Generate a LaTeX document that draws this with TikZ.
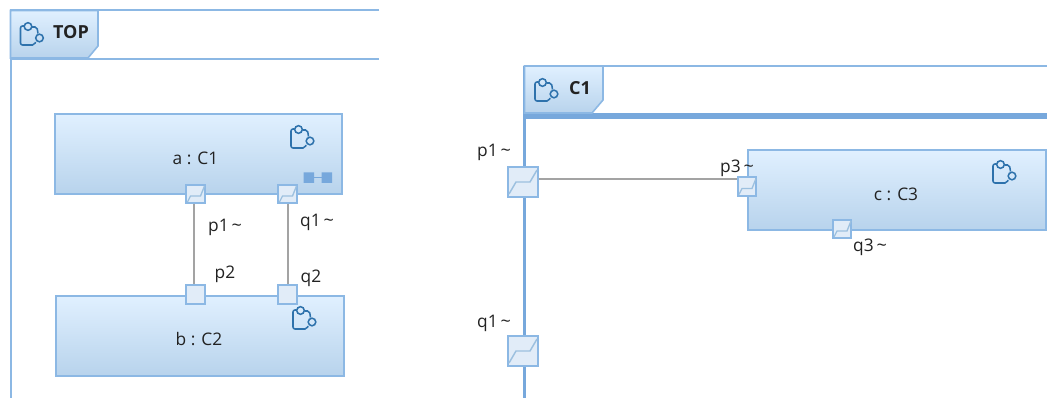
\documentclass[tikz,border=0pt]{standalone}
\usepackage{fontspec}
\setmainfont{Open Sans}
\usetikzlibrary{calc}
\definecolor{frameblue}{HTML}{8CB8E4}
\definecolor{thickblue}{HTML}{77A8DC}
\definecolor{shadetop}{HTML}{E0F0FF}
\definecolor{shadebot}{HTML}{B8D3EC}
\definecolor{portfill}{HTML}{E1ECF8}
\definecolor{iconblue}{HTML}{2E72AC}
\definecolor{wiregrey}{HTML}{A3A3A3}
\definecolor{textdark}{HTML}{222222}
\newcommand{\compicon}[2]{%
  \begin{scope}[shift={(#1,#2)},draw=iconblue,line width=1.15pt]
    \draw[rounded corners=1.5pt] (4.5,4) -- (1,4) -- (1,23) -- (15,23) -- (16,20);
    \draw (8.5,4.5) circle[radius=3.8];
    \draw[rounded corners=1.5pt] (12.5,5) -- (17.5,5) -- (18.5,11.5);
    \draw (20,16) circle[radius=3.8];
  \end{scope}}
\newcommand{\smallcurve}[1]{%
  \draw[shadebot!80!iconblue,line width=1pt] ($(#1)+(-8,8)$) -- ($(#1)+(-5,2)$) -- ($(#1)+(5,2)$) -- ($(#1)+(9,-8)$);}
\newcommand{\bigcurve}[1]{%
  \draw[shadebot!80!iconblue,line width=1.1pt] ($(#1)+(-14,12)$) -- ($(#1)+(-7,0)$) -- ($(#1)+(7,0)$) -- ($(#1)+(14,-12)$);}
\newcommand{\tld}{\,{\fontsize{13.5pt}{15pt}\selectfont\textasciitilde}}
\tikzset{
  x=0.75pt,y=-0.75pt,
  compbox/.style={draw=frameblue,line width=1.5pt,top color=shadetop,bottom color=shadebot,rectangle,inner sep=0pt,minimum height=59.5pt},
  tabshape/.style={draw=frameblue,line width=1.2pt,top color=shadetop,bottom color=shadebot},
  frameline/.style={draw=frameblue,line width=1.5pt},
  thickline/.style={draw=thickblue,line width=2.8pt},
  smallport/.style={draw=frameblue,line width=1.5pt,fill=portfill,rectangle,inner sep=0pt,minimum size=14.2pt},
  bigport/.style={draw=frameblue,line width=1.5pt,fill=portfill,rectangle,inner sep=0pt,minimum size=21.8pt},
  wire/.style={draw=wiregrey,line width=1.4pt},
  lbl/.style={font=\fontsize{13pt}{15pt}\selectfont,text=textdark,inner sep=0pt},
  tablbl/.style={font=\fontsize{13.5pt}{15pt}\selectfont\bfseries,text=textdark,inner sep=0pt},
}
\begin{document}
\begin{tikzpicture}
\useasboundingbox (0,0) rectangle (1047,398);
\fill[white] (0,0) rectangle (1047,398);
% TOP frame
\draw[frameline] (379,10.5) -- (10.5,10.5) -- (10.5,398);
\draw[frameline] (10.5,59) -- (379,59);
\draw[tabshape] (10.5,10.5) -- (98,10.5) -- (98,46) -- (88,58) -- (10.5,58) -- cycle;
\compicon{19.5}{22}
\node[tablbl] (toplabel) at (71,32) {TOP};
% C1 frame
\draw[frameline] (1047,66) -- (524.5,66);
\draw[thickline] (524.5,66) -- (524.5,398);
\draw[draw=thickblue,line width=3.8pt] (524,116) -- (1047,116);
\draw[tabshape] (524.5,66) -- (603,66) -- (603,100) -- (592,113) -- (524.5,113) -- cycle;
\compicon{534}{78}
\node[tablbl] (c1label) at (580,88) {C1};
% Parts
\node[compbox,minimum width=215pt] (a) at (198.5,154) {};
\node[lbl] (alabel) at (195.5,158) {a : C1};
\compicon{290}{125}
\fill[thickblue] (303.5,172.5) rectangle (314,183) (321.7,172.5) rectangle (332,183);
\draw[thickblue,line width=0.9pt] (314,177.7) -- (321.7,177.7);
\node[compbox,minimum width=216pt] (b) at (200,336) {};
\node[lbl] (blabel) at (199,339) {b : C2};
\compicon{292}{306}
\node[compbox,minimum width=223.5pt] (c) at (897,190) {};
\node[lbl] (clabel) at (896,194) {c : C3};
\compicon{992}{160}
% Ports
\node[smallport] (ap) at (195.5,194) {}; \smallcurve{ap}
\node[smallport] (aq) at (287.5,194) {}; \smallcurve{aq}
\node[smallport] (bp) at (195.5,294.5) {};
\node[smallport] (bq) at (287.5,294.5) {};
\node[bigport] (fp) at (523,182) {}; \bigcurve{fp}
\node[bigport] (fq) at (523,351) {}; \bigcurve{fq}
\node[smallport] (cp) at (747,186.5) {}; \smallcurve{cp}
\node[smallport] (cq) at (842,229) {}; \smallcurve{cq}
% Connectors
\draw[wire] ([xshift=-1.1pt]ap.south) -- ([xshift=-1.1pt]bp.north);
\draw[wire] ([xshift=0.2pt]aq.south) -- ([xshift=0.2pt]bq.north);
\draw[wire] ([yshift=2.3pt]fp.east) -- ([yshift=5.675pt]cp.west);
% Labels
\node[lbl] (lp1) at (225,227) {p1\tld};
\node[lbl] (lq1) at (317,222) {q1\tld};
\node[lbl] (lp2) at (225,274) {p2};
\node[lbl] (lq2) at (311,278) {q2};
\node[lbl] (lfp) at (494,152) {p1\tld};
\node[lbl] (lfq) at (494,323) {q1\tld};
\node[lbl] (lp3) at (737,168) {p3\tld};
\node[lbl] (lq3) at (870,247) {q3\tld};
\end{tikzpicture}
\end{document}
